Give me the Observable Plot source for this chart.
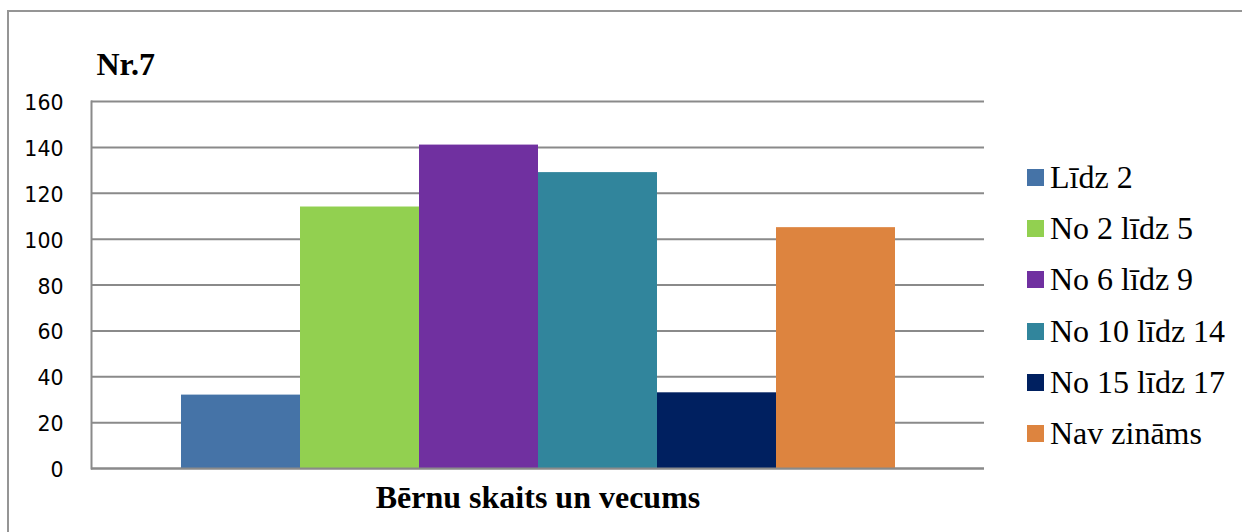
<!DOCTYPE html>
<html>
<head>
<meta charset="utf-8">
<script src="https://cdn.jsdelivr.net/npm/d3@7"></script>
<script src="https://cdn.jsdelivr.net/npm/@observablehq/plot@0.6"></script>
<style>
  @font-face { font-family: "SerifLocal"; font-weight: 400; src: local("Liberation Serif"), local("LiberationSerif"), local("LiberationSerif-Regular"), local("DejaVu Serif"), local("DejaVuSerif"); }
  @font-face { font-family: "SerifLocal"; font-weight: 700; src: local("Liberation Serif Bold"), local("LiberationSerif-Bold"), local("DejaVu Serif Bold"), local("DejaVuSerif-Bold"); }
  html, body { margin: 0; padding: 0; background: #fff; }
  #wrap { position: relative; width: 1242px; height: 532px; overflow: hidden; background: #fff; }
  #border { position: absolute; left: 7px; top: 10px; width: 1400px; height: 700px; border-left: 2px solid #959595; border-top: 2px solid #959595; box-sizing: border-box; }
  #chart { position: absolute; left: 0; top: 0; }
  .serif { font-family: "Liberation Serif", SerifLocal, "Times New Roman", "DejaVu Serif", serif; }
  .leg { position: absolute; left: 1027px; height: 17px; line-height: 17px; font-size: 32px; color: #000; white-space: nowrap; }
  .leg .sw { position: absolute; left: 0; top: 0; width: 17px; height: 17px; }
  .leg .tx { position: absolute; left: 23px; top: 0; }
</style>
</head>
<body>
<div id="wrap">
  <div id="border"></div>
  <div id="chart"></div>
  <div id="legend"></div>
</div>
<script>
const title = "Nr.7";
const xTitle = "Bērnu skaits un vecums";
const series = ["Līdz 2", "No 2 līdz 5", "No 6 līdz 9", "No 10 līdz 14", "No 15 līdz 17", "Nav zināms"];
const values = [32, 114, 141, 129, 33, 105];
const colors = ["#4573A7", "#92D050", "#7030A0", "#31859C", "#002060", "#DD843F"];
const yTicks = [0, 20, 40, 60, 80, 100, 120, 140, 160];

const data = series.map((s, i) => ({series: s, value: values[i]}));
const grid = "#8a8a8a";
const serifStack = "'Liberation Serif', SerifLocal, 'Times New Roman', 'DejaVu Serif', serif";

const chart = Plot.plot({
  width: 1242,
  height: 532,
  marginLeft: 91,
  marginRight: 258,
  marginTop: 101,
  marginBottom: 64,
  style: {background: "transparent", color: "#000", overflow: "visible"},
  x: {type: "band", domain: series, paddingInner: 0, paddingOuter: 0.75, axis: null},
  y: {domain: [0, 160], axis: null},
  color: {domain: series, range: colors},
  marks: [
    Plot.ruleY(yTicks, {stroke: grid, strokeWidth: 2}),
    Plot.frame({anchor: "left", stroke: grid, strokeWidth: 2}),
    Plot.barY(data, {x: "series", y: "value", fill: "series"}),
    Plot.ruleY([0], {stroke: grid, strokeWidth: 2}),
    Plot.axisY({ticks: yTicks, tickSize: 0, tickPadding: 28, fontSize: 20.5, fontFamily: "DejaVu Sans", fill: "#000", dy: 2, label: null}),
    Plot.text([title], {frameAnchor: "top-left", textAnchor: "start", dx: 5, dy: -49, fontSize: 32, fontWeight: "bold", fontFamily: serifStack, fill: "#000"}),
    Plot.text([xTitle], {frameAnchor: "bottom", dy: 39, fontSize: 32, fontWeight: "bold", fontFamily: serifStack, fill: "#000"})
  ]
});
document.getElementById("chart").appendChild(chart);

const legend = document.getElementById("legend");
series.forEach((s, i) => {
  const row = document.createElement("div");
  row.className = "leg serif";
  row.style.top = (169 + i * 51.2) + "px";
  const sw = document.createElement("div");
  sw.className = "sw";
  sw.style.background = colors[i];
  const tx = document.createElement("div");
  tx.className = "tx";
  tx.textContent = s;
  row.appendChild(sw);
  row.appendChild(tx);
  legend.appendChild(row);
});
</script>
</body>
</html>
